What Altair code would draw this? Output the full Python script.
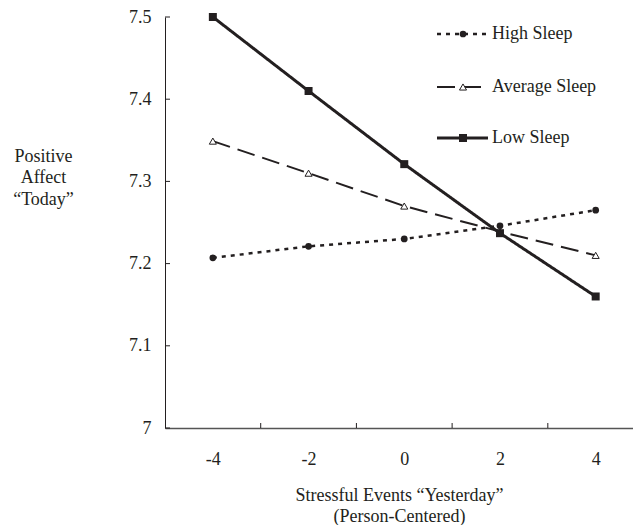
import altair as alt
import pandas as pd

# ---- data ----
stress = [-4, -2, 0, 2, 4]
high_sleep = [7.207, 7.221, 7.230, 7.246, 7.265]
avg_sleep = [7.349, 7.310, 7.270, 7.239, 7.210]
low_sleep = [7.500, 7.410, 7.321, 7.237, 7.160]
series_names = ["High Sleep", "Average Sleep", "Low Sleep"]
y_ticks = [7.0, 7.1, 7.2, 7.3, 7.4, 7.5]
x_labels = [-4, -2, 0, 2, 4]
x_inner_ticks = [-3, -1, 1, 3]

INK = "#231f20"
FONT = "Liberation Serif"
W, H = 468, 411

rows = []
for name, vals in zip(series_names, [high_sleep, avg_sleep, low_sleep]):
    for xv, yv in zip(stress, vals):
        rows.append({"series": name, "x": xv, "y": yv})
df = pd.DataFrame(rows)

xscale = alt.Scale(domain=[-5, 4.78], nice=False, zero=False)
yscale = alt.Scale(domain=[7.0, 7.5], nice=False, zero=False)

XAXIS = alt.Axis(values=x_labels, tickSize=0, labelPadding=22, grid=False,
                 labelExpr="'' + datum.value",
                 domainColor="#555555", domainWidth=1.6,
                 title=["Stressful Events \u201cYesterday\u201d", "(Person-Centered)"],
                 titlePadding=18, titleLineHeight=21)
YAXIS = alt.Axis(values=y_ticks, tickSize=0, labelPadding=14, grid=False,
                 format=".1~f",
                 title=["Positive", "Affect", "\u201cToday\u201d"],
                 titleAngle=0, titleAlign="center", titleBaseline="top",
                 titleX=-122, titleY=130, titleLineHeight=21.5)


def X():
    return alt.X("x:Q", scale=xscale, axis=XAXIS)


def Y():
    return alt.Y("y:Q", scale=yscale, axis=YAXIS)


styles = {
    "High Sleep": dict(dash=[4, 5], width=2.5, shape="circle", size=45, fill=INK, sw=0),
    "Average Sleep": dict(dash=[18, 8], width=2, shape="triangle-up", size=50, fill="white", sw=1),
    "Low Sleep": dict(dash=[1, 0], width=3, shape="square", size=64, fill=INK, sw=0),
}

layers = []

# inward tick marks
ytick_df = pd.DataFrame({"y": y_ticks})
layers.append(alt.Chart(ytick_df).mark_rule(color=INK, strokeWidth=1).encode(
    y=Y(), x=alt.value(0), x2=alt.value(5)))
xtick_df = pd.DataFrame({"x": x_inner_ticks})
layers.append(alt.Chart(xtick_df).mark_rule(color=INK, strokeWidth=1).encode(
    x=X(), y=alt.value(H), y2=alt.value(H - 5)))

legend_y = {"High Sleep": 17, "Average Sleep": 70, "Low Sleep": 121}
lx0, lx1, lmid, ltext = 272, 323, 298, 327

for name in series_names:
    st = styles[name]
    sub = df[df.series == name]
    layers.append(alt.Chart(sub).mark_line(color=INK, strokeWidth=st["width"],
                                           strokeDash=st["dash"]).encode(x=X(), y=Y()))
    layers.append(alt.Chart(sub).mark_point(shape=st["shape"], size=st["size"], filled=True,
                                            fill=st["fill"], stroke=INK, strokeWidth=st["sw"],
                                            opacity=1).encode(x=X(), y=Y()))
    # legend entry
    leg = pd.DataFrame({"series": [name]})
    ly = legend_y[name]
    layers.append(alt.Chart(leg).mark_rule(color=INK, strokeWidth=st["width"],
                                           strokeDash=st["dash"]).encode(
        x=alt.value(lx0), x2=alt.value(lx1), y=alt.value(ly)))
    layers.append(alt.Chart(leg).mark_point(shape=st["shape"], size=st["size"], filled=True,
                                            fill=st["fill"], stroke=INK, strokeWidth=st["sw"],
                                            opacity=1).encode(
        x=alt.value(lmid), y=alt.value(ly)))
    layers.append(alt.Chart(leg).mark_text(font=FONT, fontSize=18, color=INK, align="left",
                                           baseline="middle").encode(
        x=alt.value(ltext), y=alt.value(ly), text="series:N"))

chart = alt.layer(*layers).properties(
    width=W, height=H,
    autosize=alt.AutoSizeParams(type="none"),
    padding={"left": 157, "top": 9, "right": 0, "bottom": 97},
).configure_view(stroke=None).configure_axis(
    labelFont=FONT, labelFontSize=18, labelColor=INK,
    titleFont=FONT, titleFontSize=18, titleFontWeight="normal", titleColor=INK,
    domainColor=INK, domainWidth=1,
)

chart.save("out.html", embed_options={"renderer": "svg", "actions": False})
